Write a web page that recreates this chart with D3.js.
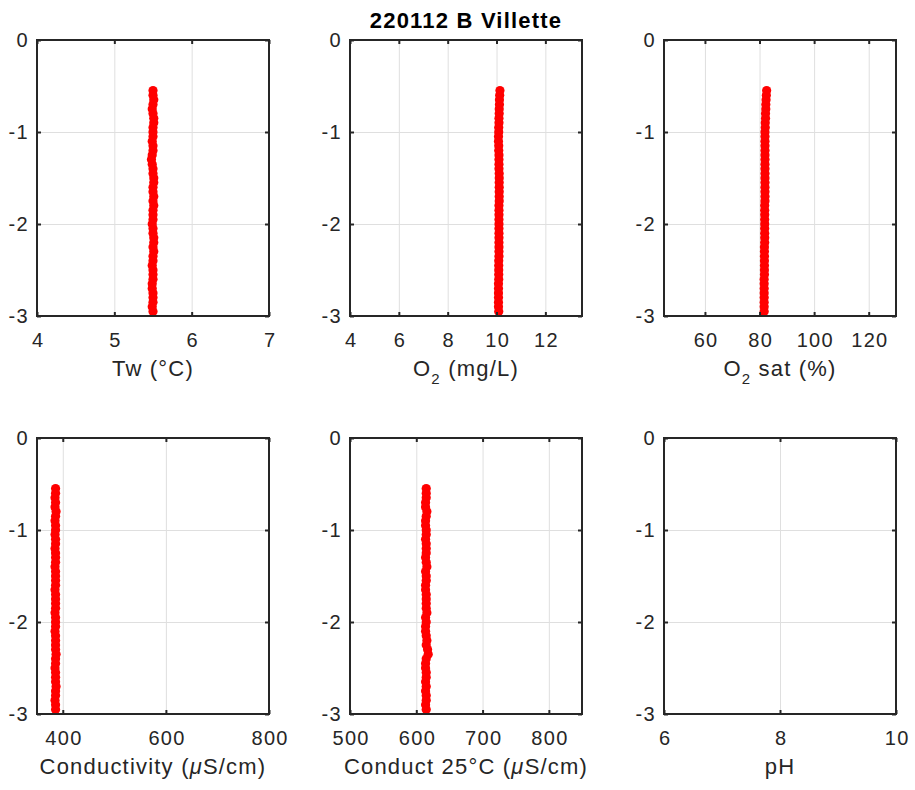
<!DOCTYPE html>
<html><head><meta charset="utf-8">
<script src="https://cdn.jsdelivr.net/npm/d3@7"></script>
<style>
body{margin:0;background:#fff}
svg{display:block}
text{font-family:"Liberation Sans",Arial,Helvetica,sans-serif}
</style>
</head><body>
<svg id="chart" width="915" height="790"></svg>
<script>
// ---------- data ----------
const titleText = "220112 B Villette";
const depth = [-0.55,-0.60,-0.65,-0.70,-0.75,-0.80,-0.85,-0.90,-0.95,-1.00,
  -1.05,-1.10,-1.15,-1.20,-1.25,-1.30,-1.35,-1.40,-1.45,-1.50,
  -1.55,-1.60,-1.65,-1.70,-1.75,-1.80,-1.85,-1.90,-1.95,-2.00,
  -2.05,-2.10,-2.15,-2.20,-2.25,-2.30,-2.35,-2.40,-2.45,-2.50,
  -2.55,-2.60,-2.65,-2.70,-2.75,-2.80,-2.85,-2.90,-2.95];
const tempW = [5.50,5.50,5.51,5.50,5.49,5.50,5.51,5.51,5.50,5.50,
  5.50,5.49,5.50,5.50,5.49,5.48,5.49,5.50,5.50,5.51,
  5.51,5.50,5.50,5.51,5.50,5.51,5.50,5.50,5.50,5.49,
  5.50,5.50,5.51,5.51,5.50,5.51,5.50,5.50,5.49,5.50,
  5.50,5.50,5.49,5.49,5.50,5.50,5.50,5.49,5.50];
const oxygen = [10.14,10.13,10.12,10.12,10.11,10.11,10.10,10.10,10.09,10.09,
  10.08,10.08,10.09,10.09,10.10,10.10,10.10,10.10,10.11,10.11,
  10.11,10.11,10.11,10.11,10.11,10.10,10.10,10.10,10.10,10.10,
  10.10,10.10,10.10,10.10,10.10,10.10,10.10,10.09,10.09,10.09,
  10.09,10.09,10.08,10.08,10.08,10.08,10.08,10.08,10.09];
const oxygenSat = [82.6,82.5,82.4,82.3,82.3,82.2,82.2,82.1,82.1,82.0,
  82.0,82.0,82.0,82.0,82.0,82.0,82.0,82.0,82.0,82.0,
  82.0,82.0,82.0,82.0,82.0,81.9,81.9,81.9,81.9,81.9,
  81.9,81.9,81.9,81.9,81.8,81.8,81.8,81.8,81.8,81.8,
  81.8,81.7,81.7,81.7,81.7,81.7,81.7,81.7,81.7];
const conductivity = [386,386,385,386,385,387,386,385,386,386,
  385,386,386,385,386,386,386,385,386,386,
  386,386,385,386,386,386,386,385,386,386,
  386,385,386,386,386,386,387,386,386,385,
  386,386,386,387,386,386,385,386,386];
const conduct25 = [615,615,615,614,614,616,615,614,614,615,
  615,614,615,615,615,614,615,616,614,615,
  615,614,614,615,615,615,615,616,614,615,
  614,614,615,616,615,617,618,615,614,614,
  615,615,614,615,614,615,615,614,615];
const pH = [];

const yDomain = [-3, 0];
const yTicks = [0, -1, -2, -3];
const ticksTw = [4, 5, 6, 7];
const ticksO2 = [4, 6, 8, 10, 12];
const ticksSat = [60, 80, 100, 120];
const ticksCond = [400, 600, 800];
const ticksCond25 = [500, 600, 700, 800];
const ticksPH = [6, 8, 10];
const domTw = [4, 7], domO2 = [4, 13.5], domSat = [45, 130],
      domCond = [350, 800], domCond25 = [500, 850], domPH = [6, 10];

const panels = [
  {values: tempW, domain: domTw, ticks: ticksTw, label: [{t: "Tw (°C)"}]},
  {values: oxygen, domain: domO2, ticks: ticksO2, label: [{t: "O"}, {t: "2", sub: true}, {t: " (mg/L)"}]},
  {values: oxygenSat, domain: domSat, ticks: ticksSat, label: [{t: "O"}, {t: "2", sub: true}, {t: " sat (%)"}]},
  {values: conductivity, domain: domCond, ticks: ticksCond, label: [{t: "Conductivity ("}, {t: "μ", it: true}, {t: "S/cm)"}]},
  {values: conduct25, domain: domCond25, ticks: ticksCond25, label: [{t: "Conduct 25°C ("}, {t: "μ", it: true}, {t: "S/cm)"}]},
  {values: pH, domain: domPH, ticks: ticksPH, label: [{t: "pH"}]}
];

// ---------- layout ----------
const colX = [37, 350, 664], rowY = [40, 438];
const W = 232, H = 276;
const axisColor = "#262626", gridColor = "#dfdfdf";
const tickFont = 20, labelFont = 22;

const svg = d3.select("#chart");

panels.forEach((p, i) => {
  const L = colX[i % 3], T = rowY[Math.floor(i / 3)];
  const x = d3.scaleLinear().domain(p.domain).range([L, L + W]);
  const y = d3.scaleLinear().domain(yDomain).range([T + H, T]);
  const g = svg.append("g");

  // grid
  g.append("g").attr("transform", `translate(0,${T + H})`)
    .call(d3.axisBottom(x).tickValues(p.ticks).tickSize(-H).tickFormat(""))
    .call(a => { a.select(".domain").remove(); a.selectAll("line").attr("stroke", gridColor).attr("stroke-width", 1); });
  g.append("g").attr("transform", `translate(${L},0)`)
    .call(d3.axisLeft(y).tickValues(yTicks).tickSize(-W).tickFormat(""))
    .call(a => { a.select(".domain").remove(); a.selectAll("line").attr("stroke", gridColor).attr("stroke-width", 1); });

  // data
  g.append("g").selectAll("circle").data(p.values.map((v, k) => [v, depth[k]]))
    .join("circle")
    .attr("cx", d => x(d[0])).attr("cy", d => y(d[1]))
    .attr("r", 4.6).attr("fill", "#ff0000");

  // axes with inward ticks
  const fmt = d => String(d);
  const styleAxis = a => {
    a.select(".domain").remove();
    a.selectAll("line").attr("stroke", axisColor).attr("stroke-width", 2);
    a.selectAll("text").attr("fill", axisColor).attr("font-size", tickFont)
      .attr("font-family", '"Liberation Sans", Arial, sans-serif')
      .style("letter-spacing", "1.3px");
  };
  g.append("g").attr("transform", `translate(0,${T + H})`)
    .call(d3.axisBottom(x).tickValues(p.ticks).tickSizeInner(-4).tickSizeOuter(0).tickPadding(17).tickFormat(fmt))
    .call(styleAxis)
    .call(a => a.selectAll("text").attr("dx", "0.65px"));
  g.append("g").attr("transform", `translate(0,${T})`)
    .call(d3.axisTop(x).tickValues(p.ticks).tickSizeInner(-4).tickSizeOuter(0).tickFormat(""))
    .call(styleAxis);
  g.append("g").attr("transform", `translate(${L},0)`)
    .call(d3.axisLeft(y).tickValues(yTicks).tickSizeInner(-4).tickSizeOuter(0).tickPadding(8).tickFormat(fmt))
    .call(styleAxis)
    .call(a => a.selectAll("text").attr("dy", "0.34em"));
  g.append("g").attr("transform", `translate(${L + W},0)`)
    .call(d3.axisRight(y).tickValues(yTicks).tickSizeInner(-4).tickSizeOuter(0).tickFormat(""))
    .call(styleAxis);

  // box
  g.append("rect").attr("x", L).attr("y", T).attr("width", W).attr("height", H)
    .attr("fill", "none").attr("stroke", axisColor).attr("stroke-width", 2);

  // x label
  const lab = g.append("text")
    .attr("x", L + W / 2).attr("y", T + H + 60)
    .attr("text-anchor", "middle").attr("font-size", labelFont)
    .attr("fill", axisColor).style("letter-spacing", "1.2px");
  p.label.forEach((s, k) => {
    const ts = lab.append("tspan").text(s.t);
    if (s.sub) ts.attr("font-size", 15).attr("dy", 8);
    if (k > 0 && p.label[k - 1].sub) ts.attr("dy", -8);
    if (s.it) ts.attr("font-style", "italic");
  });
});

// title
svg.append("text")
  .attr("x", colX[1] + W / 2).attr("y", 28)
  .attr("text-anchor", "middle").attr("font-size", 22).attr("font-weight", "bold")
  .attr("fill", "#000").style("letter-spacing", "1.2px")
  .text(titleText);
</script>
</body></html>
